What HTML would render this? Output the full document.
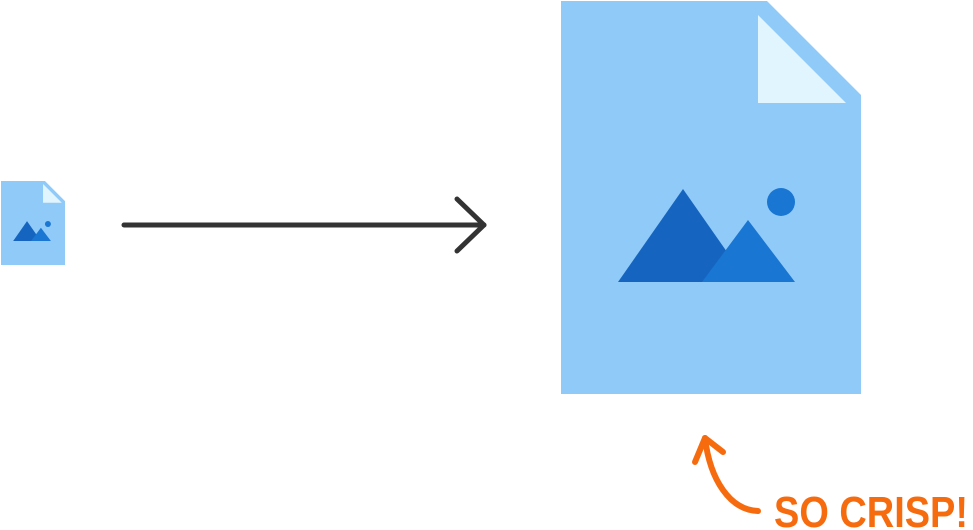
<!DOCTYPE html>
<html><head><meta charset="utf-8"><style>
html,body{margin:0;padding:0;background:#fff;}
svg{display:block;}
</style></head><body>
<svg width="973" height="530" viewBox="0 0 973 530" xmlns="http://www.w3.org/2000/svg">
<defs>
<g id="doc">
<polygon points="0,0 206,0 300,94 300,393 0,393" fill="#90caf9"/>
<polygon points="197,14 197,102 285,102" fill="#e1f5fe"/>
<polygon points="57,281 122,188 187,281" fill="#1565c0"/>
<polygon points="141,281 187,219 234,281" fill="#1976d2"/>
<circle cx="220" cy="201" r="14" fill="#1976d2"/>
</g>
</defs>
<use href="#doc" transform="translate(561,1)"/>
<use href="#doc" transform="translate(1,181) scale(0.2133,0.2137)"/>
<g stroke="#333" stroke-width="5" stroke-linecap="round" stroke-linejoin="round" fill="none">
<line x1="124" y1="225" x2="484" y2="225"/>
<polyline points="457,199 484,225 457,251"/>
</g>
<g stroke="#f76b0f" stroke-width="6" stroke-linecap="round" stroke-linejoin="round" fill="none">
<path d="M758,511 C730,510 710,480 705,438"/>
<polyline points="695,462 705,438 723,452"/>
</g>
<text x="774" y="527" font-family="Liberation Sans, sans-serif" font-weight="bold" font-size="44" fill="#f76b0f" textLength="194" lengthAdjust="spacingAndGlyphs">SO CRISP!</text>
</svg>
</body></html>
